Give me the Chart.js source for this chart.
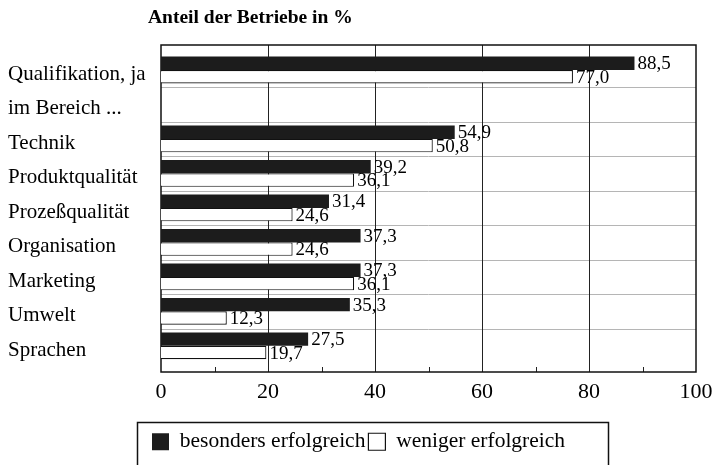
<!DOCTYPE html>
<html>
<head>
<meta charset="utf-8">
<script src="https://cdn.jsdelivr.net/npm/chart.js@4.4.1/dist/chart.umd.min.js"></script>
<style>
html, body { margin: 0; padding: 0; background: #fff; }
</style>
</head>
<body>
<canvas id="chart" width="715" height="465"></canvas>
<script>
const kategorien = ['Qualifikation, ja', 'im Bereich ...', 'Technik', 'Produktqualität', 'Prozeßqualität', 'Organisation', 'Marketing', 'Umwelt', 'Sprachen'];
const besonders = [88.5, null, 54.9, 39.2, 31.4, 37.3, 37.3, 35.3, 27.5];
const weniger = [77.0, null, 50.8, 36.1, 24.6, 24.6, 36.1, 12.3, 19.7];
const xTicks = [0, 20, 40, 60, 80, 100];
const titel = 'Anteil der Betriebe in %';
const serien = ['besonders erfolgreich', 'weniger erfolgreich'];

const SERIF = '"Liberation Serif", "DejaVu Serif", serif';
const FRAME_TOP = 45, FRAME_BOT = 372;

function linie(ctx, x1, y1, x2, y2) {
  ctx.beginPath();
  ctx.moveTo(x1, y1);
  ctx.lineTo(x2, y2);
  ctx.stroke();
}

const rahmen = {
  id: 'rahmen',
  afterLayout(chart) {
    // Legende an die Position aus der Vorlage schieben
    const lg = chart.legend;
    const w = lg.right - lg.left, h = lg.bottom - lg.top;
    lg.left = 149; lg.right = 149 + w;
    lg.top = 428; lg.bottom = 428 + h;
  },
  beforeDatasetsDraw(chart) {
    const { ctx, chartArea: a, scales: { x, y } } = chart;
    ctx.save();
    ctx.lineWidth = 1;
    ctx.strokeStyle = '#b5b5b5';
    for (let i = 1; i < kategorien.length; i++) {
      const yy = Math.round((y.getPixelForValue(i - 1) + y.getPixelForValue(i)) / 2) + 0.5;
      linie(ctx, a.left, yy, a.right, yy);
    }
    ctx.strokeStyle = '#222';
    xTicks.slice(1, -1).forEach(v => {
      const xx = Math.round(x.getPixelForValue(v)) + 0.5;
      linie(ctx, xx, FRAME_TOP, xx, FRAME_BOT);
    });
    for (let v = 10; v < 100; v += 10) {
      const xx = Math.round(x.getPixelForValue(v)) + 0.5;
      linie(ctx, xx, FRAME_BOT, xx, FRAME_BOT - 5);
    }
    ctx.lineWidth = 1.5;
    ctx.strokeStyle = '#111';
    ctx.strokeRect(a.left, FRAME_TOP, a.right - a.left, FRAME_BOT - FRAME_TOP);
    ctx.restore();
  },
  afterDatasetsDraw(chart) {
    const ctx = chart.ctx;
    ctx.save();
    ctx.font = '19px ' + SERIF;
    ctx.fillStyle = '#000';
    ctx.textBaseline = 'middle';
    ctx.textAlign = 'left';
    chart.data.datasets.forEach((ds, di) => {
      chart.getDatasetMeta(di).data.forEach((bar, i) => {
        const v = ds.data[i];
        if (v == null) return;
        ctx.fillText(v.toFixed(1).replace('.', ','), bar.x + 3, bar.y + 1);
      });
    });
    ctx.restore();
  },
  afterDraw(chart) {
    const ctx = chart.ctx;
    ctx.save();
    ctx.font = 'bold 19.5px ' + SERIF;
    ctx.fillStyle = '#000';
    ctx.textBaseline = 'middle';
    ctx.fillText(titel, 148, 18);
    ctx.lineWidth = 1.5;
    ctx.strokeStyle = '#111';
    ctx.strokeRect(137.5, 422.5, 471, 60);
    ctx.restore();
  }
};

new Chart(document.getElementById('chart'), {
  type: 'bar',
  data: {
    labels: kategorien,
    datasets: [
      { label: serien[0], data: besonders, backgroundColor: '#1c1c1c', borderWidth: 0 },
      { label: serien[1], data: weniger, backgroundColor: '#ffffff', borderColor: '#111', borderWidth: 1.2 }
    ]
  },
  options: {
    indexAxis: 'y',
    responsive: false,
    animation: false,
    layout: { padding: { left: 8, top: 52.7, right: 0, bottom: 17 } },
    datasets: { bar: { categoryPercentage: 0.78, barPercentage: 1 } },
    scales: {
      x: {
        min: 0, max: 100,
        grid: { display: false },
        border: { display: false },
        ticks: { stepSize: 20, padding: 8, color: '#000', font: { family: SERIF, size: 22 } },
        afterFit(s) { s.paddingRight = 19; s.paddingLeft = 0; }
      },
      y: {
        grid: { display: false },
        border: { display: false },
        ticks: { crossAlign: 'far', padding: 0, labelOffset: 4.5, color: '#000', font: { family: SERIF, size: 21 } },
        afterFit(s) { s.width = 153; }
      }
    },
    plugins: {
      title: { display: false },
      tooltip: { enabled: false },
      legend: {
        position: 'bottom',
        align: 'start',
        labels: { boxWidth: 17, boxHeight: 17, padding: 3, color: '#000', font: { family: SERIF, size: 21.5 } }
      }
    }
  },
  plugins: [rahmen]
});
</script>
</body>
</html>
